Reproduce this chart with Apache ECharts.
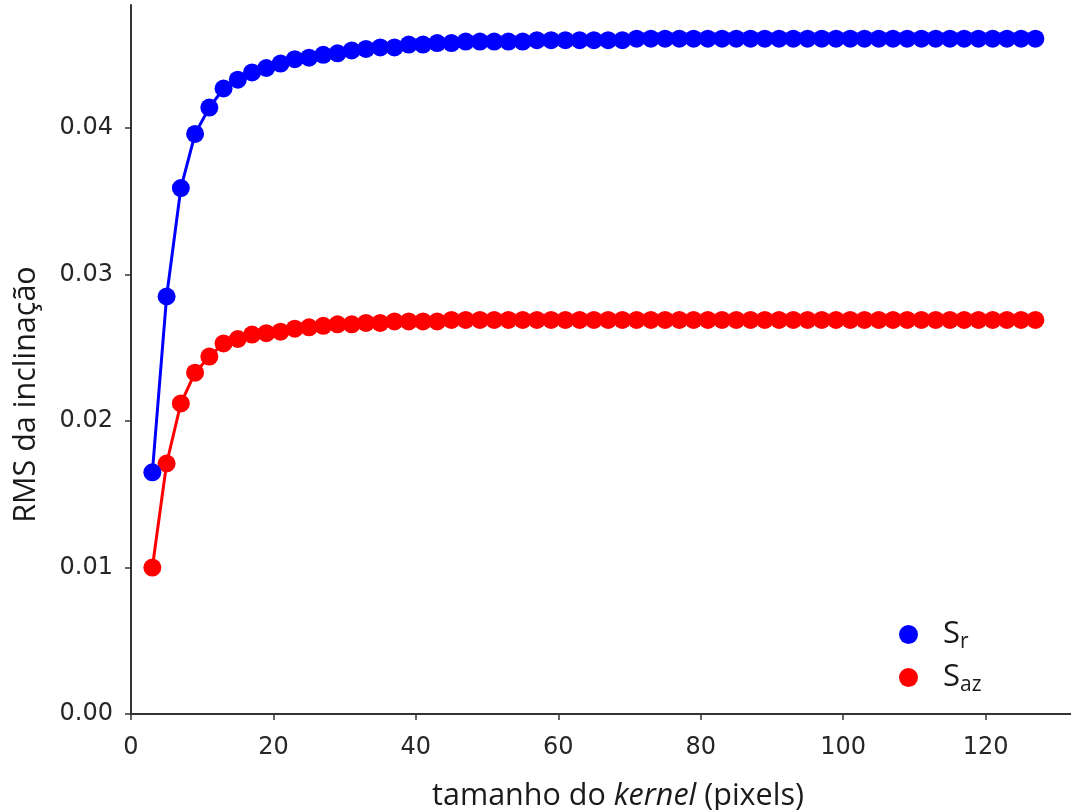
<!DOCTYPE html>
<html>
<head>
<meta charset="utf-8">
<script src="https://cdn.jsdelivr.net/npm/echarts@6/dist/echarts.min.js"></script>
<style>
  html, body { margin: 0; padding: 0; background: #fff; }
  #chart { width: 1071px; height: 810px; }
</style>
</head>
<body>
<div id="chart"></div>
<script>
// Kernel sizes (odd, 3..127)
const kernelSizes = [3,5,7,9,11,13,15,17,19,21,23,25,27,29,31,33,35,37,39,41,43,45,47,49,51,53,55,57,59,61,63,
  65,67,69,71,73,75,77,79,81,83,85,87,89,91,93,95,97,99,101,103,105,107,109,111,113,115,117,119,121,123,125,127];

// RMS slope, range direction
const rmsSr = [0.0165,0.0285,0.0359,0.0396,0.0414,0.0427,0.0433,0.0438,0.0441,0.0444,0.0447,0.0448,0.0450,0.0451,0.0453,0.0454,
  0.0455,0.0455,0.0457,0.0457,0.0458,0.0458,0.0459,0.0459,0.0459,0.0459,0.0459,0.0460,0.0460,0.0460,0.0460,
  0.0460,0.0460,0.0460,0.0461,0.0461,0.0461,0.0461,0.0461,0.0461,0.0461,0.0461,0.0461,0.0461,0.0461,0.0461,
  0.0461,0.0461,0.0461,0.0461,0.0461,0.0461,0.0461,0.0461,0.0461,0.0461,0.0461,0.0461,0.0461,0.0461,0.0461,0.0461,0.0461];

// RMS slope, azimuth direction
const rmsSaz = [0.0100,0.0171,0.0212,0.0233,0.0244,0.0253,0.0256,0.0259,0.0260,0.0261,0.0263,0.0264,0.0265,0.0266,0.0266,0.0267,
  0.0267,0.0268,0.0268,0.0268,0.0268,0.0269,0.0269,0.0269,0.0269,0.0269,0.0269,0.0269,0.0269,0.0269,0.0269,
  0.0269,0.0269,0.0269,0.0269,0.0269,0.0269,0.0269,0.0269,0.0269,0.0269,0.0269,0.0269,0.0269,0.0269,0.0269,
  0.0269,0.0269,0.0269,0.0269,0.0269,0.0269,0.0269,0.0269,0.0269,0.0269,0.0269,0.0269,0.0269,0.0269,0.0269,0.0269,0.0269];

const xTicks = [0, 20, 40, 60, 80, 100, 120];
const yTicks = [0, 0.01, 0.02, 0.03, 0.04];

const seriesNames = ['Sr', 'Saz'];
const seriesColors = ['#0000ff', '#ff0000'];

const pairs = (xs, ys) => xs.map((x, i) => [x, ys[i]]);

const tickFont = { fontFamily: 'DejaVu Sans', fontSize: 24, color: '#262626' };
const titleFont = 'Open Sans';

const chart = echarts.init(document.getElementById('chart'), null, { renderer: 'canvas' });

chart.setOption({
  animation: false,
  backgroundColor: '#ffffff',
  grid: { left: 131, top: 5, right: 0, bottom: 96, containLabel: false, outerBoundsMode: 'none' },
  xAxis: {
    type: 'value',
    min: 0,
    max: 132,
    name: '{a|tamanho do }{i|kernel}{a| (pixels)}',
    nameLocation: 'middle',
    nameGap: 67,
    nameTextStyle: {
      padding: [0, 0, 0, 34],
      rich: {
        a: { fontFamily: titleFont, fontSize: 30.5, color: '#1a1a1a' },
        i: { fontFamily: titleFont, fontSize: 30.5, fontStyle: 'italic', color: '#1a1a1a' }
      }
    },
    axisLine: { show: true, onZero: false, lineStyle: { color: '#333', width: 2 } },
    axisTick: { show: true, length: 6, inside: false, lineStyle: { color: '#333', width: 1.5 }, customValues: xTicks },
    axisLabel: Object.assign({ margin: 22, customValues: xTicks, formatter: v => String(v) }, tickFont),
    splitLine: { show: false }
  },
  yAxis: {
    type: 'value',
    min: 0,
    max: 0.0484,
    name: 'RMS da inclinação',
    nameLocation: 'middle',
    nameGap: 89,
    nameTextStyle: { fontFamily: titleFont, fontSize: 30.5, color: '#1a1a1a', padding: [0, 70, 0, 0] },
    axisLine: { show: true, onZero: false, lineStyle: { color: '#333', width: 2 } },
    axisTick: { show: true, length: 6, inside: false, lineStyle: { color: '#333', width: 1.5 }, customValues: yTicks },
    axisLabel: Object.assign({ margin: 18, customValues: yTicks, formatter: v => v.toFixed(2) }, tickFont),
    splitLine: { show: false }
  },
  legend: {
    orient: 'vertical',
    left: 894,
    top: 611,
    itemWidth: 19,
    itemHeight: 19,
    itemGap: 6,
    icon: 'circle',
    data: seriesNames,
    formatter: name => '{s|S}{sub|' + name.slice(1) + '}',
    textStyle: {
      padding: [0, 0, 0, 20],
      rich: {
        s: { fontFamily: titleFont, fontSize: 31, color: '#1a1a1a', lineHeight: 34 },
        sub: { fontFamily: titleFont, fontSize: 21, color: '#1a1a1a', lineHeight: 34, padding: [16, 0, 0, 0] }
      }
    }
  },
  series: seriesNames.map((name, k) => ({
    name,
    type: 'line',
    data: pairs(kernelSizes, k === 0 ? rmsSr : rmsSaz),
    symbol: 'circle',
    symbolSize: 18,
    showAllSymbol: true,
    itemStyle: { color: seriesColors[k] },
    lineStyle: { color: seriesColors[k], width: 3 },
    z: 2 + (1 - k)
  }))
});
</script>
</body>
</html>
